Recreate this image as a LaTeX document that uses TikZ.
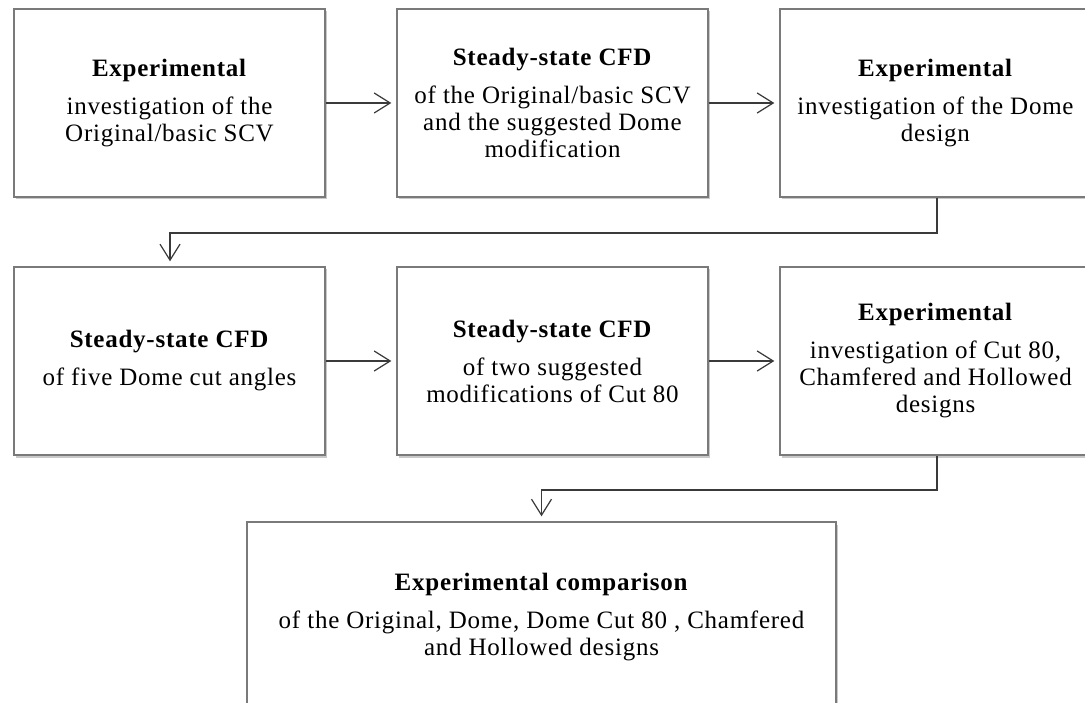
\documentclass[tikz,border=0pt]{standalone}
\usepackage{fontspec}
\setmainfont[LetterSpace=3]{Liberation Serif}
\usetikzlibrary{arrows.meta,shadows}
\definecolor{boxline}{HTML}{7A7A7A}
\definecolor{arrline}{HTML}{3A3A3A}
\tikzset{
  stepbox/.style={draw=boxline, line width=1.4pt, fill=white,
    minimum width=311pt, minimum height=188pt, align=center,
    inner sep=0pt, font=\fontsize{25}{27}\selectfont,
    drop shadow={shadow xshift=1.5pt, shadow yshift=-2.5pt, opacity=0.35, fill=black!60}},
  flow/.style={draw=arrline, line width=1.2pt,
    -{Straight Barb[length=16pt, width=20pt, line width=1.2pt]}, shorten >=5pt},
}
\newcommand{\ttl}[1]{\textbf{#1}\\[11pt]}
\begin{document}
\begin{tikzpicture}[x=1pt,y=-1pt]
\useasboundingbox[fill=white] (0,0) rectangle (1085,703);
\node[stepbox] (b1) at (169.5,103) {\ttl{Experimental}investigation  of the\\Original/basic SCV};
\node[stepbox] (b2) at (552.5,103) {\ttl{Steady-state CFD}of the Original/basic  SCV\\and the suggested  Dome\\modification};
\node[stepbox] (b3) at (935.5,103) {\ttl{Experimental}investigation  of the Dome\\design};
\node[stepbox] (b4) at (169.5,361) {\ttl{Steady-state CFD}of five Dome cut angles};
\node[stepbox] (b5) at (552.5,361) {\ttl{Steady-state CFD}of two suggested\\modifications of Cut 80};
\node[stepbox] (b6) at (935.5,361) {\ttl{Experimental}investigation  of Cut 80,\\Chamfered and Hollowed\\designs};
\node[stepbox, minimum width=589pt, minimum height=190pt] (b7) at (541.5,617) {\ttl{Experimental comparison}of the Original,  Dome, Dome Cut 80 , Chamfered\\and Hollowed designs};
\coordinate (k1) at (937,233);
\coordinate (k2) at (170,233);
\coordinate (k3) at (937,490);
\coordinate (k4) at (541.5,490);
\draw[flow] (b1.east) -- (b2.west);
\draw[flow] (b2.east) -- (b3.west);
\draw[flow] (b4.east) -- (b5.west);
\draw[flow] (b5.east) -- (b6.west);
\draw[flow] (b3.south -| k1) -- (k1) -- (k2) -- (b4.north -| k2);
\draw[flow] (b6.south -| k3) -- (k3) -- (k4) -- (b7.north);
\end{tikzpicture}
\end{document}
